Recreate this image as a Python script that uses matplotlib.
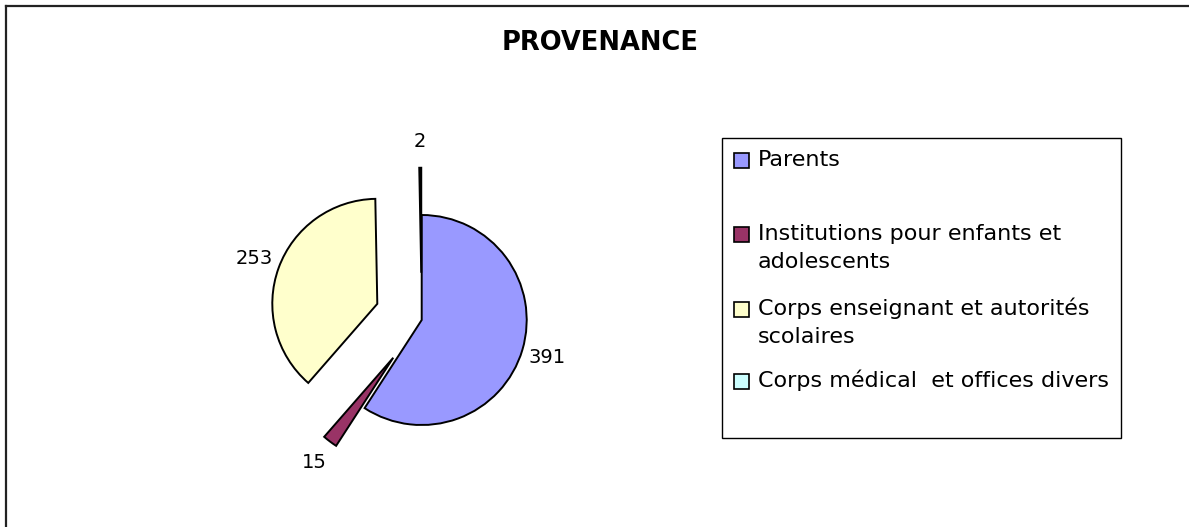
from matplotlib import pyplot as plt
from matplotlib.patches import Rectangle
from matplotlib.lines import Line2D

W, H = 1189, 527

categories = ['Parents',
              'Institutions pour enfants et\nadolescents',
              'Corps enseignant et autorités\nscolaires',
              'Corps médical  et offices divers']
values = [391, 15, 253, 2]
colors = ['#9999FF', '#993366', '#FFFFCC', '#CCFFFF']
explode = [0, 0.45, 0.45, 0.45]

# pixel -> figure fraction
def fx(x):
    return x / W
def fy(y):
    return 1 - y / H

fig = plt.figure(figsize=(W / 100, H / 100), dpi=100)
fig.patch.set_facecolor('white')

# frame lines along left and top
fig.add_artist(Line2D([fx(6), fx(6)], [fy(6), fy(H)], color='#222222', lw=1.6))
fig.add_artist(Line2D([fx(6), fx(W)], [fy(6), fy(6)], color='#222222', lw=1.6))

fig.text(fx(600), fy(43), 'PROVENANCE', ha='center', va='center',
         fontsize=18.5, fontweight='bold')

# pie, radius 105 px, centred at (422, 320)
cx, cy, r = 421.7, 320, 105
ax = fig.add_axes([fx(cx - 2 * r), fy(cy + 2 * r), 4 * r / W, 4 * r / H])
total = sum(values)
wedges, texts, autotexts = ax.pie(values, colors=colors, explode=explode,
                                  startangle=90, counterclock=False,
                                  autopct=lambda p: '%d' % round(p * total / 100),
                                  pctdistance=1.25,
                                  wedgeprops=dict(edgecolor='black', linewidth=1.4),
                                  textprops=dict(fontsize=14))
ax.set_xlim(-2, 2)
ax.set_ylim(-2, 2)
ax.set_aspect('equal')
ax.axis('off')

# legend box
fig.add_artist(Rectangle((fx(722), fy(438)), (1121 - 722) / W, (438 - 138) / H,
                         transform=fig.transFigure, facecolor='white',
                         edgecolor='black', lw=1.0, zorder=0))
row_base = [166, 240, 315, 387]
line_gap = 28
for lab, col, yb in zip(categories, colors, row_base):
    fig.add_artist(Rectangle((fx(734), fy(yb + 2)), 15 / W, 15 / H,
                             transform=fig.transFigure, facecolor=col,
                             edgecolor='black', lw=1.2))
    for i, line in enumerate(lab.split('\n')):
        fig.text(fx(758), fy(yb + i * line_gap), line, ha='left', va='baseline',
                 fontsize=16)

plt.savefig('out.png', dpi=100)
